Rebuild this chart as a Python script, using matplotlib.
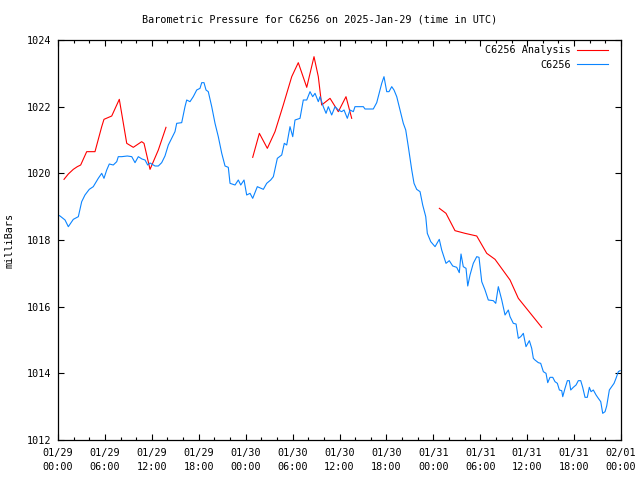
import numpy as np
import matplotlib
matplotlib.use("Agg")
import matplotlib.pyplot as plt

# hours since 2025-01-29 00:00 UTC, pressure in mbar
obs_hours = [0.0, 0.26, 0.90, 1.32, 1.96, 2.60, 3.03, 3.45, 4.00, 4.51, 5.15, 5.59, 5.88, 6.23, 6.56,
             7.07, 7.51, 7.71, 8.15, 8.86, 9.43, 9.85, 10.27, 10.74, 11.13, 11.47, 11.77, 12.41, 12.83,
             13.26, 13.68, 14.11, 14.54, 14.96, 15.18, 15.82, 16.24, 16.46, 16.88, 17.30, 17.74, 18.16,
             18.38, 18.67, 18.93, 19.22, 19.66, 20.08, 20.50, 20.94, 21.36, 21.78, 22.00, 22.64, 23.06,
             23.37, 23.79, 24.13, 24.56, 24.90, 25.49, 26.26, 26.69, 27.20, 27.54, 28.05, 28.61, 28.94,
             29.25, 29.67, 30.02, 30.31, 30.95, 31.37, 31.81, 32.23, 32.57, 32.87, 33.29, 33.51, 33.93,
             34.28, 34.57, 35.00, 35.43, 35.85, 36.28, 36.58, 37.00, 37.34, 37.77, 37.98, 39.05, 39.26,
             40.32, 40.76, 41.18, 41.40, 41.69, 42.04, 42.33, 42.68, 42.97, 43.32, 43.74, 44.16, 44.47,
             44.80, 45.24, 45.53, 45.87, 46.30, 46.64, 47.03, 47.23, 47.67, 48.22, 48.76, 49.07, 49.62,
             50.04, 50.48, 50.99, 51.32, 51.54, 51.83, 52.18, 52.40, 52.69, 53.11, 53.55, 53.84, 54.19,
             54.61, 55.03, 55.67, 55.98, 56.31, 56.75, 57.17, 57.59, 57.81, 58.23, 58.58, 58.87, 59.18,
             59.51, 59.85, 60.28, 60.58, 60.79, 61.00, 61.43, 61.73, 62.07, 62.41, 62.63, 62.92, 63.27,
             63.56, 63.86, 64.12, 64.42, 64.55, 64.84, 65.14, 65.39, 65.57, 65.90, 66.25, 66.54, 66.85,
             67.10, 67.40, 67.69, 67.95, 68.17, 68.46, 68.81, 69.10, 69.41, 69.66, 69.96, 70.17, 70.51,
             70.81, 71.11, 71.36, 71.66, 71.88]
obs_press = [1018.75, 1018.72, 1018.60, 1018.40, 1018.62, 1018.70, 1019.15, 1019.35, 1019.52, 1019.60,
             1019.85, 1020.00, 1019.85, 1020.10, 1020.28, 1020.25, 1020.35, 1020.50, 1020.50, 1020.52,
             1020.50, 1020.32, 1020.50, 1020.43, 1020.40, 1020.25, 1020.31, 1020.22, 1020.22, 1020.32,
             1020.52, 1020.85, 1021.05, 1021.25, 1021.50, 1021.52, 1022.00, 1022.20, 1022.15, 1022.30,
             1022.50, 1022.55, 1022.72, 1022.72, 1022.50, 1022.45, 1022.00, 1021.50, 1021.10, 1020.60,
             1020.22, 1020.18, 1019.70, 1019.65, 1019.80, 1019.65, 1019.80, 1019.35, 1019.40, 1019.25,
             1019.60, 1019.52, 1019.70, 1019.80, 1019.90, 1020.45, 1020.55, 1020.90, 1020.85, 1021.40,
             1021.10, 1021.60, 1021.65, 1022.20, 1022.20, 1022.45, 1022.30, 1022.40, 1022.15, 1022.30,
             1022.00, 1021.80, 1022.00, 1021.75, 1022.00, 1021.90, 1021.85, 1021.90, 1021.65, 1021.90,
             1021.85, 1022.00, 1022.00, 1021.93, 1021.93, 1022.12, 1022.50, 1022.70, 1022.90, 1022.45,
             1022.45, 1022.60, 1022.50, 1022.30, 1021.90, 1021.50, 1021.30, 1020.80, 1020.10, 1019.70,
             1019.52, 1019.45, 1019.05, 1018.70, 1018.20, 1017.95, 1017.80, 1018.02, 1017.70, 1017.30,
             1017.38, 1017.22, 1017.18, 1017.02, 1017.58, 1017.20, 1017.15, 1016.62, 1016.95, 1017.30,
             1017.50, 1017.48, 1016.75, 1016.50, 1016.20, 1016.18, 1016.10, 1016.60, 1016.20, 1015.75,
             1015.90, 1015.70, 1015.50, 1015.48, 1015.05, 1015.10, 1015.20, 1014.80, 1014.98, 1014.75,
             1014.45, 1014.40, 1014.32, 1014.30, 1014.05, 1014.00, 1013.72, 1013.88, 1013.88, 1013.75,
             1013.70, 1013.50, 1013.48, 1013.30, 1013.55, 1013.78, 1013.78, 1013.50, 1013.58, 1013.65,
             1013.78, 1013.78, 1013.58, 1013.28, 1013.28, 1013.58, 1013.45, 1013.50, 1013.35, 1013.25,
             1013.15, 1012.80, 1012.85, 1013.02, 1013.50, 1013.60, 1013.70, 1013.85, 1014.05, 1014.08]

# analysis series (NaN = gap)
ana_hours = [0.77, 1.32, 1.96, 2.47, 2.90, 3.67, 4.73, 5.59, 5.88, 6.87, 7.84, 8.79, 9.63, 10.70, 11.00,
             11.77, 12.83, 13.81, 19.0,
             24.90, 25.75, 26.77, 27.75, 28.81, 29.89, 30.73, 31.81, 32.74, 33.29, 33.72, 34.79, 35.85,
             36.83, 37.56, 43.0,
             48.77, 49.62, 50.77, 52.05, 53.55, 54.83, 55.89, 57.81, 58.87, 59.73, 61.86]
ana_press = [1019.82, 1019.98, 1020.12, 1020.20, 1020.25, 1020.65, 1020.65, 1021.40, 1021.62, 1021.72,
             1022.22, 1020.90, 1020.78, 1020.95, 1020.90, 1020.12, 1020.70, 1021.38, np.nan,
             1020.48, 1021.20, 1020.75, 1021.25, 1022.05, 1022.90, 1023.32, 1022.58, 1023.50, 1022.90,
             1022.05, 1022.25, 1021.85, 1022.30, 1021.65, np.nan,
             1018.95, 1018.80, 1018.28, 1018.20, 1018.12, 1017.60, 1017.42, 1016.80, 1016.25, 1016.00,
             1015.38]

xtick_hours = [0, 6, 12, 18, 24, 30, 36, 42, 48, 54, 60, 66, 72]
xtick_labels = ["01/29\n00:00", "01/29\n06:00", "01/29\n12:00", "01/29\n18:00",
                "01/30\n00:00", "01/30\n06:00", "01/30\n12:00", "01/30\n18:00",
                "01/31\n00:00", "01/31\n06:00", "01/31\n12:00", "01/31\n18:00",
                "02/01\n00:00"]
yticks = [1012, 1014, 1016, 1018, 1020, 1022, 1024]

plt.rcParams['font.family'] = ['DejaVu Sans Mono']
plt.rcParams['font.size'] = 7.3

fig = plt.figure(figsize=(6.4, 4.8), dpi=100)
ax = fig.add_axes([58/640, 40/480, 563/640, 400/480])

ax.plot(ana_hours, ana_press, color='#ff0000', lw=0.8, label='C6256 Analysis')
ax.plot(obs_hours, obs_press, color='#0a84ff', lw=0.8, label='C6256')

ax.set_xlim(0, 72)
ax.set_ylim(1012, 1024)
ax.set_xticks(xtick_hours)
ax.set_xticklabels(xtick_labels, linespacing=1.45)
ax.set_xticks(np.arange(0, 73, 2), minor=True)
ax.set_yticks(yticks)
ax.tick_params(which='both', direction='in', top=True, right=True, width=0.8)
ax.tick_params(which='major', length=4)
ax.tick_params(which='minor', length=2)
ax.tick_params(axis='x', pad=6)
ax.tick_params(axis='y', pad=5)
for s in ax.spines.values():
    s.set_linewidth(0.9)

ax.set_ylabel('milliBars', labelpad=9)
fig.text(0.5, 1 - 19/480, 'Barometric Pressure for C6256 on 2025-Jan-29 (time in UTC)',
         ha='center', va='center')

leg = ax.legend(loc='upper right', frameon=False, markerfirst=False, handlelength=3.1,
                handletextpad=0.55, borderaxespad=0.1, labelspacing=0.45,
                bbox_to_anchor=(1 - 8/563, 1 - 0/400))

fig.savefig('out.png', dpi=100)
